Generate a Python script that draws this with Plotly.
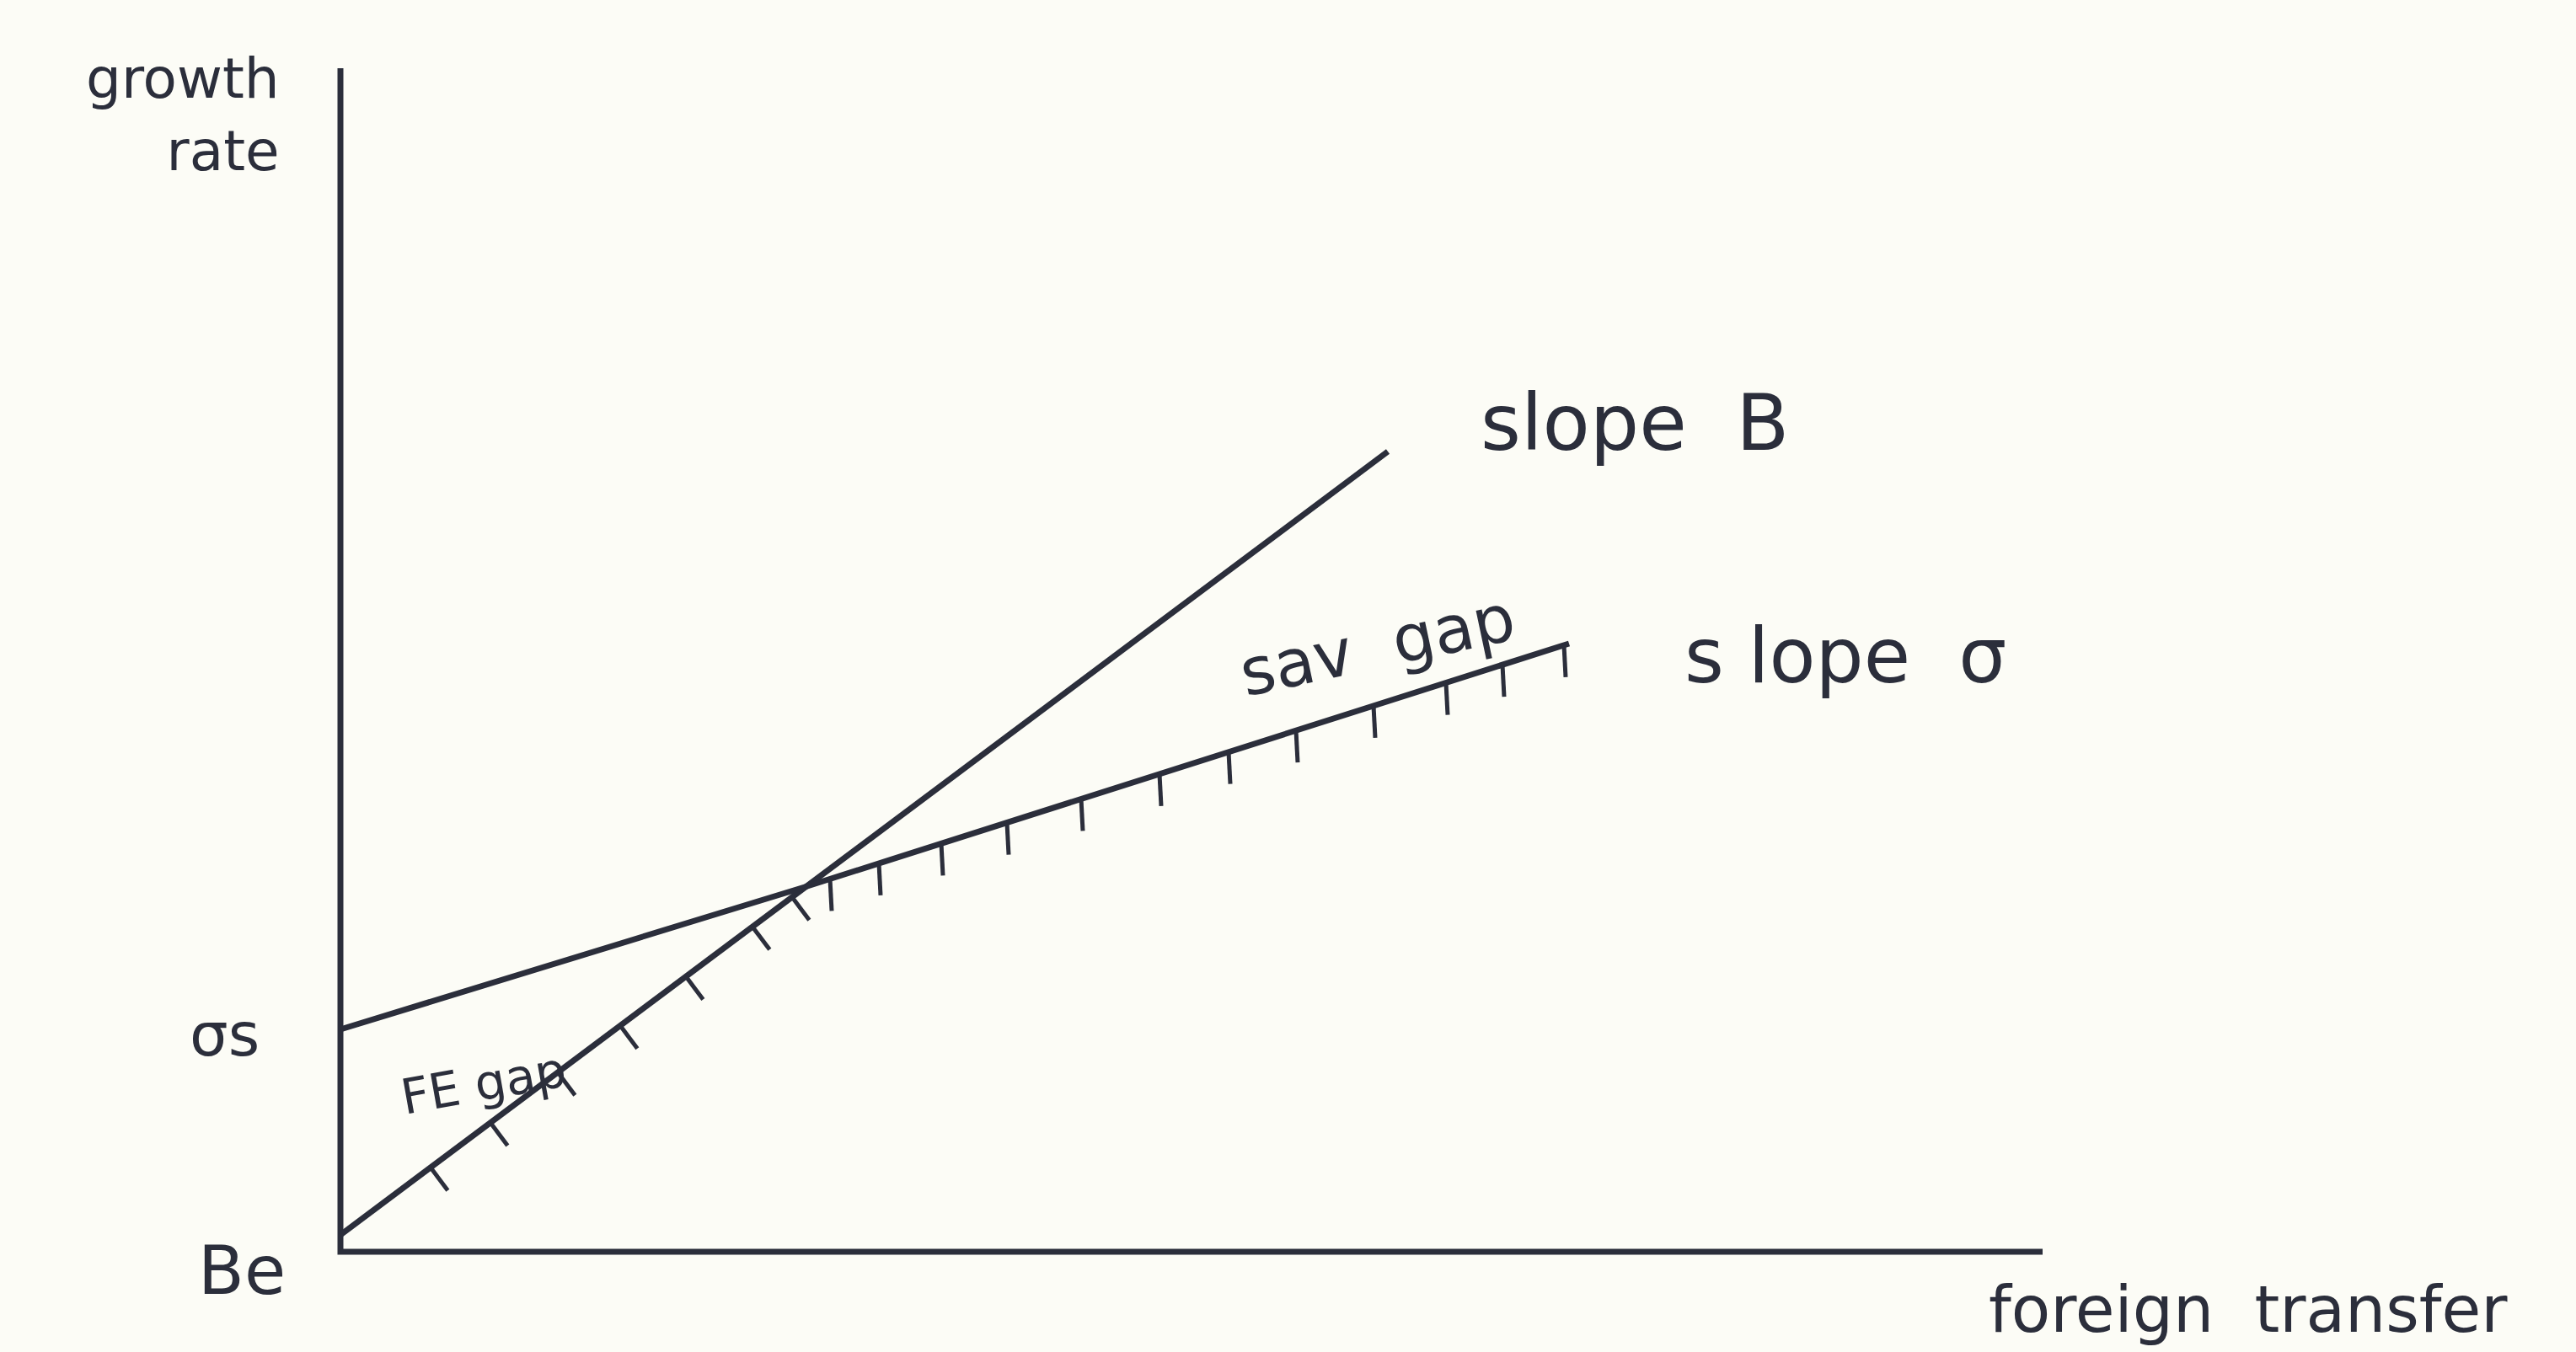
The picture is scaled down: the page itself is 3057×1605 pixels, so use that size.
import numpy as np
import plotly.graph_objects as go

# ---- data (arbitrary units) ----
axis_x_end = 20.2          # length of the foreign-transfer axis
axis_y_end = 14.05         # height of the growth-rate axis

slopeB_x = [0.0, 12.43]    # FE-gap line (slope B), starts at Be
slopeB_y = [0.2, 9.50]

slopeS_x = [0.0, 5.51, 14.58]   # savings-gap line (slope sigma), starts at sigma*s
slopeS_y = [2.64, 4.33, 7.22]

fe_hatch_x = [1.07, 1.78, 2.58, 3.32, 4.10, 4.89, 5.36]
sav_hatch_x = [5.81, 6.39, 7.13, 7.91, 8.79, 9.72, 10.54, 11.34, 12.26, 13.12, 13.79, 14.52]

NB = "\u00a0"
labels = {
    "growth<br>rate": (-0.70, 13.50),
    "σs": (-1.38, 2.58),
    "Be": (-1.17, -0.22),
    "FE" + NB + "gap": (1.70, 2.00),
    "sav" + NB * 2 + "gap": (12.30, 7.20),
    "slope" + NB * 2 + "B": (15.36, 9.84),
    "s" + NB + "lope" + NB * 2 + "σ": (17.86, 7.08),
    "foreign" + NB * 2 + "transfer": (22.64, -0.68),
}

INK = "#2b2e3b"
PAPER = "#fcfcf6"

fig = go.Figure()

# axes (drawn as lines)
fig.add_trace(go.Scatter(x=[0, 0, axis_x_end], y=[axis_y_end, 0, 0], mode="lines",
                         line=dict(color=INK, width=7), hoverinfo="skip"))
# slope B line
fig.add_trace(go.Scatter(x=slopeB_x, y=slopeB_y, mode="lines",
                         line=dict(color=INK, width=7), hoverinfo="skip"))
# slope sigma line
fig.add_trace(go.Scatter(x=slopeS_x, y=slopeS_y, mode="lines",
                         line=dict(color=INK, width=7, shape="spline", smoothing=0.3),
                         hoverinfo="skip"))

# hatch marks along the FE-gap line (perpendicular, down-right)
dx, dy = slopeB_x[1] - slopeB_x[0], slopeB_y[1] - slopeB_y[0]
n = np.hypot(dx, dy)
px, py = dy / n, -dx / n
L1 = 0.34
hx, hy = [], []
for x in fe_hatch_x:
    y = np.interp(x, slopeB_x, slopeB_y)
    hx += [x, x + px * L1, None]
    hy += [y, y + py * L1, None]
# hatch marks below the savings-gap line (vertical)
L2 = 0.38
for x in sav_hatch_x:
    y = np.interp(x, slopeS_x, slopeS_y)
    hx += [x, x + 0.02, None]
    hy += [y, y - L2, None]
fig.add_trace(go.Scatter(x=hx, y=hy, mode="lines",
                         line=dict(color=INK, width=5), hoverinfo="skip"))

font_face = "DejaVu Sans"
style_list = [
    dict(size=66, xanchor="right", align="right", angle=0),
    dict(size=72, xanchor="center", align="center", angle=0),
    dict(size=80, xanchor="center", align="center", angle=0),
    dict(size=58, xanchor="center", align="center", angle=-10),
    dict(size=78, xanchor="center", align="center", angle=-12),
    dict(size=92, xanchor="center", align="center", angle=0),
    dict(size=90, xanchor="center", align="center", angle=0),
    dict(size=76, xanchor="center", align="center", angle=0),
]
for (text, (x, y)), st in zip(labels.items(), style_list):
    fig.add_annotation(x=x, y=y, xref="x", yref="y", text=text, showarrow=False,
                       xanchor=st["xanchor"], yanchor="middle", align=st["align"],
                       textangle=st["angle"],
                       font=dict(family=font_face, size=st["size"], color=INK))

fig.update_layout(
    width=3057, height=1605,
    margin=dict(l=0, r=0, t=0, b=0),
    paper_bgcolor=PAPER, plot_bgcolor=PAPER,
    showlegend=False,
    xaxis=dict(range=[-4.04, 26.53], visible=False, fixedrange=True),
    yaxis=dict(range=[-1.19, 14.86], visible=False, fixedrange=True),
)

fig.write_html("out.html", config={"displayModeBar": False},
               post_script="document.body.style.margin='0';document.body.style.overflow='hidden';")
